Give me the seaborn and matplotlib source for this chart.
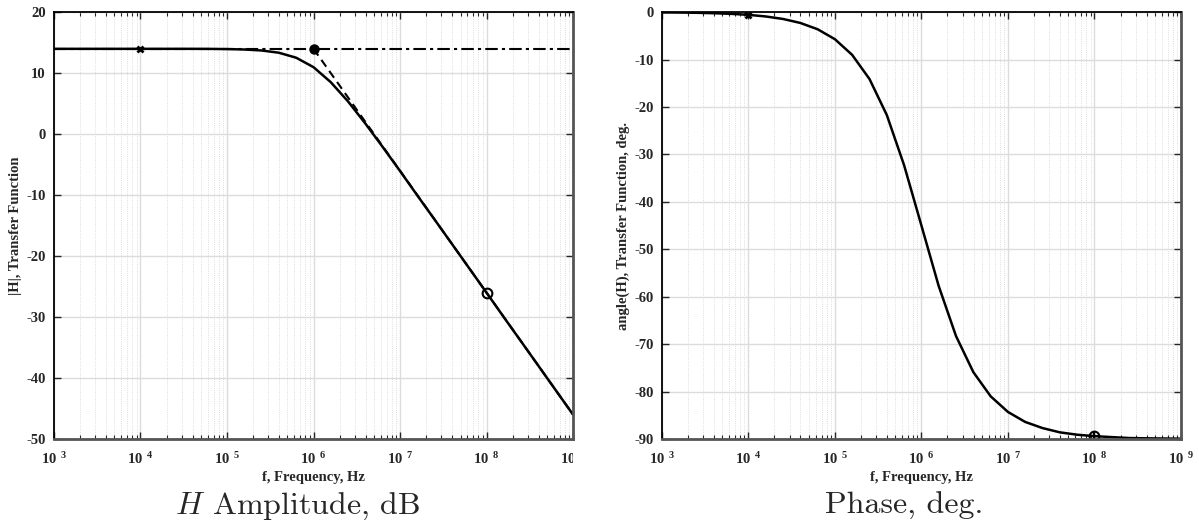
import numpy as np
import pandas as pd
import seaborn as sns
import matplotlib.pyplot as plt
from matplotlib.ticker import FixedLocator, FuncFormatter, LogLocator, NullFormatter
from matplotlib.transforms import Bbox, TransformedBbox

# frequency samples, Hz (0.2 decade steps)
freq = [1.0e3, 1.58e3, 2.51e3, 3.98e3, 6.31e3,
        1.0e4, 1.58e4, 2.51e4, 3.98e4, 6.31e4,
        1.0e5, 1.58e5, 2.51e5, 3.98e5, 6.31e5,
        1.0e6, 1.58e6, 2.51e6, 3.98e6, 6.31e6,
        1.0e7, 1.58e7, 2.51e7, 3.98e7, 6.31e7,
        1.0e8, 1.58e8, 2.51e8, 3.98e8, 6.31e8, 1.0e9]

amp_db = [13.98, 13.98, 13.98, 13.98, 13.98,
          13.98, 13.98, 13.98, 13.98, 13.97,
          13.94, 13.87, 13.71, 13.34, 12.52,
          10.97, 8.52, 5.34, 1.71, -2.13,
          -6.06, -10.05, -14.03, -18.02, -22.02,
          -26.02, -30.02, -34.02, -38.02, -42.02, -46.02]

phase_deg = [-0.06, -0.09, -0.14, -0.23, -0.36,
             -0.57, -0.91, -1.44, -2.28, -3.61,
             -5.71, -9.0, -14.1, -21.7, -32.3,
             -45.0, -57.7, -68.3, -75.9, -81.0,
             -84.3, -86.4, -87.7, -88.6, -89.1,
             -89.4, -89.6, -89.8, -89.86, -89.9, -89.94]

# asymptotes of the amplitude plot
flat_f = [1.0e3, 1.0e9]
flat_db = [13.98, 13.98]
slope_f = [1.0e6, 1.0e9]
slope_db = [13.98, -46.02]

# marked points
amp_mark_f = [1.0e4, 1.0e6, 1.0e8]
amp_mark_db = [13.98, 13.98, -26.02]
ph_mark_f = [1.0e4, 1.0e8]
ph_mark_deg = [-0.57, -89.4]

sns.set_style("ticks")
plt.rcParams["font.family"] = ["Liberation Serif", "DejaVu Serif"]
plt.rcParams["mathtext.fontset"] = "custom"
plt.rcParams["mathtext.bf"] = "Liberation Serif:bold"
plt.rcParams["mathtext.rm"] = "Liberation Serif"
plt.rcParams["mathtext.it"] = "cmmi10"
plt.rcParams["axes.unicode_minus"] = False

df = pd.DataFrame({"f": freq, "amp": amp_db, "phase": phase_deg})

fig = plt.figure(figsize=(11.99, 5.27), dpi=100)
ax1 = fig.add_axes([0.045, 0.167, 0.433, 0.810])
ax2 = fig.add_axes([0.552, 0.167, 0.433, 0.810])


def dec_label(v, pos):
    e = int(round(np.log10(v)))
    return r"$\mathbf{10}^{\ \,\mathbf{%d}}$" % e


def style_axis(ax, ylo, yhi, ystep):
    ax.set_xscale("log")
    ax.set_xlim(1e3, 1e9)
    ax.set_ylim(ylo, yhi)
    ax.xaxis.set_major_locator(FixedLocator([1e3, 1e4, 1e5, 1e6, 1e7, 1e8, 1e9]))
    ax.xaxis.set_major_formatter(FuncFormatter(dec_label))
    ax.xaxis.set_minor_locator(LogLocator(base=10, subs=np.arange(2, 10), numticks=20))
    ax.xaxis.set_minor_formatter(NullFormatter())
    ax.set_yticks(np.arange(ylo, yhi + 1, ystep))
    ax.grid(which="major", color="#dcdcdc", lw=1.0, ls="-")
    ax.grid(which="minor", axis="x", color="#d2d2d2", lw=0.6, ls=":")
    ax.tick_params(which="both", direction="in", top=True, right=True)
    ax.tick_params(which="major", length=5, width=1.0, pad=8, labelsize=10.5)
    ax.tick_params(which="minor", length=3, width=0.8)
    ax.tick_params(axis="y", pad=6)
    for lab in ax.get_yticklabels():
        lab.set_fontweight("bold")
    for s in ["left", "top"]:
        ax.spines[s].set_color("black")
        ax.spines[s].set_linewidth(1.3)
    for s in ["bottom", "right"]:
        ax.spines[s].set_color("#555555")
        ax.spines[s].set_linewidth(2.0)
    ax.set_axisbelow(True)


# amplitude panel
sns.lineplot(data=df, x="f", y="amp", ax=ax1, color="black", lw=1.8)
ax1.plot(flat_f, flat_db, color="black", lw=1.5, ls=(0, (6, 2, 1.5, 2)))
ax1.plot(slope_f, slope_db, color="black", lw=1.5, ls=(0, (4, 2.5)))
ax1.plot(amp_mark_f[0], amp_mark_db[0], marker="x", ms=5, mew=2, color="black")
ax1.plot(amp_mark_f[1], amp_mark_db[1], marker="o", ms=6, mew=1.5, color="black")
ax1.plot(amp_mark_f[2], amp_mark_db[2], marker="o", ms=7, mew=1.5, mfc="none", color="black")
style_axis(ax1, -50, 20, 10)
ax1.set_xlabel("f, Frequency, Hz", fontsize=10.5, fontweight="bold", labelpad=3)
ax1.set_ylabel("|H|, Transfer Function", fontsize=10.5, fontweight="bold", labelpad=3)

# phase panel
sns.lineplot(data=df, x="f", y="phase", ax=ax2, color="black", lw=1.8)
ax2.plot(ph_mark_f[0], ph_mark_deg[0], marker="x", ms=5, mew=2, color="black")
ax2.plot(ph_mark_f[1], ph_mark_deg[1], marker="o", ms=7, mew=1.5, mfc="none", color="black")
ax2.plot(ph_mark_f[1], ph_mark_deg[1], marker="+", ms=7, mew=1.5, color="black")
style_axis(ax2, -90, 0, 10)
ax2.set_xlabel("f, Frequency, Hz", fontsize=10.5, fontweight="bold", labelpad=3)
ax2.set_ylabel("angle(H), Transfer Function, deg.", fontsize=10.5, fontweight="bold", labelpad=3)

# the left panel's last tick label is cut at the panel edge
clip = TransformedBbox(Bbox([[0, 0], [0.478, 1]]), fig.transFigure)
for t in ax1.xaxis.get_major_ticks():
    t.label1.set_clip_box(clip)
    t.label1.set_clip_on(True)

fig.text(0.248, 0.025, r"$H$ Amplitude, dB", fontsize=23, family="cmr10", ha="center")
fig.text(0.754, 0.025, "Phase, deg.", fontsize=23, family="cmr10", ha="center")

fig.savefig("out.png", dpi=100)
